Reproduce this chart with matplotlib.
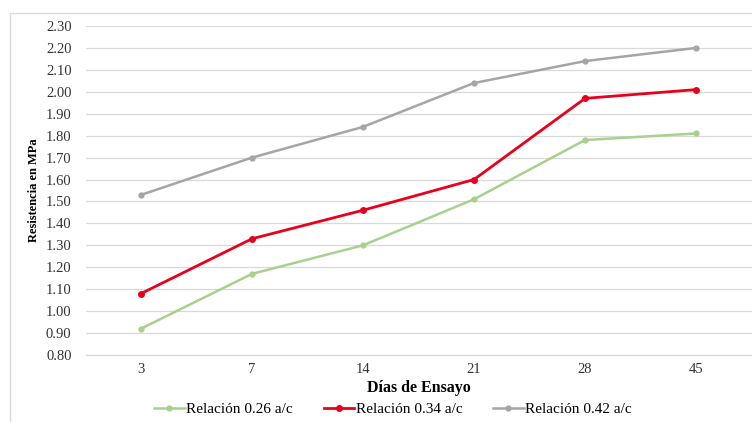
import matplotlib.pyplot as plt
from matplotlib.patches import Rectangle

# datos
dias = ['3', '7', '14', '21', '28', '45']
rel_026 = [0.92, 1.17, 1.30, 1.51, 1.78, 1.81]
rel_034 = [1.08, 1.33, 1.46, 1.60, 1.97, 2.01]
rel_042 = [1.53, 1.70, 1.84, 2.04, 2.14, 2.20]
yticks = [0.80 + 0.10 * i for i in range(16)]

plt.rcParams['font.family'] = ['Liberation Serif', 'DejaVu Serif']

fig = plt.figure(figsize=(7.52, 4.22), dpi=100)
# marco exterior del grafico (recortado a la derecha)
fig.patches.append(Rectangle((10 / 752, -0.1), 1.2, 1.1 - 13 / 422,
                             transform=fig.transFigure, fill=False,
                             edgecolor='#d9d9d9', lw=1.0))
ax = fig.add_axes([85.5 / 752, 1 - 355 / 422, 666 / 752, 329 / 422])

x = range(len(dias))
ax.plot(x, rel_026, color='#a9d18e', lw=1.8, marker='o', ms=3.5, label='Relación 0.26 a/c')
ax.plot(x, rel_034, color='#e8001c', lw=2.0, marker='o', ms=4, label='Relación 0.34 a/c')
ax.plot(x, rel_042, color='#a5a5a5', lw=1.8, marker='o', ms=3.5, label='Relación 0.42 a/c')

ax.set_xlim(-0.5, 5.5)
ax.set_ylim(0.80, 2.30)
ax.set_xticks(list(x))
ax.set_xticklabels(dias)
ax.set_yticks(yticks)
ax.set_yticklabels(['%.2f' % v for v in yticks])
ax.tick_params(length=0, labelsize=10.5, colors='#333333')
ax.tick_params(axis='x', pad=6)
ax.tick_params(axis='y', pad=10)
ax.grid(axis='y', color='#d9d9d9', lw=0.9)
ax.set_axisbelow(True)
for s in ['top', 'right', 'left']:
    ax.spines[s].set_visible(False)
ax.spines['bottom'].set_color('#d9d9d9')

ax.set_xlabel('Días de Ensayo', fontsize=11.5, fontweight='bold', labelpad=3)
ax.set_ylabel('Resistencia en MPa', fontsize=9, fontweight='bold', labelpad=4)

fig.legend(loc='center', bbox_to_anchor=(393 / 752, 1 - 409 / 422), ncol=3,
           frameon=False, fontsize=11, handlelength=2.0, handletextpad=0.1,
           columnspacing=2.0)

fig.savefig('out.png', dpi=100)
plt.close()
